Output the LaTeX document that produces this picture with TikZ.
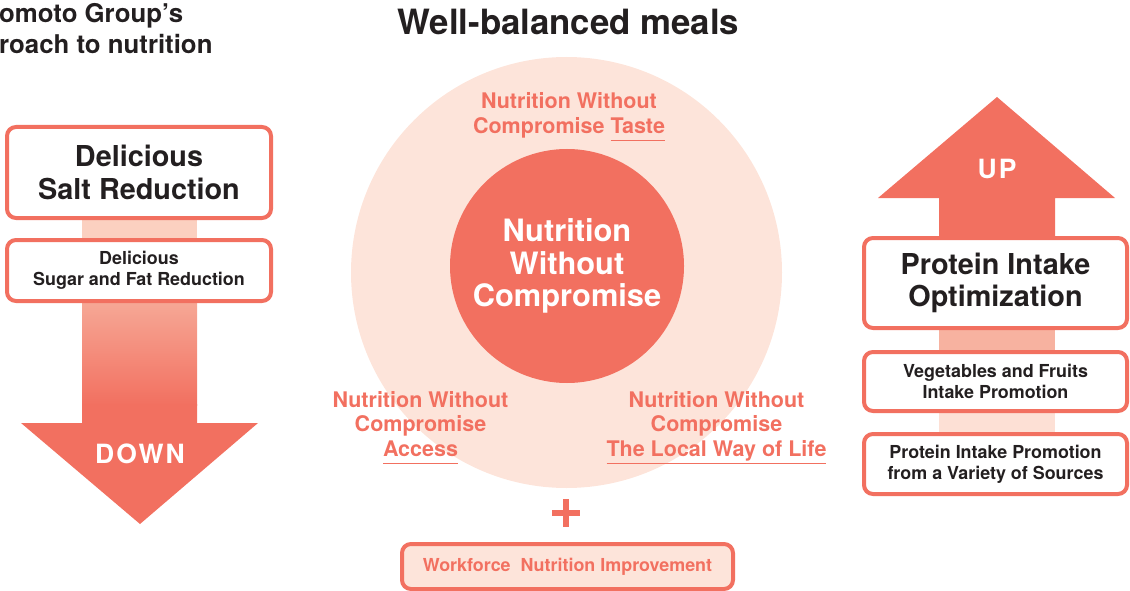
\documentclass[tikz,border=0pt]{standalone}
\usepackage{fontspec}
\setmainfont{TeX Gyre Heros}
\usetikzlibrary{positioning}
\definecolor{coral}{RGB}{242,112,96}
\definecolor{pale}{RGB}{253,228,218}
\definecolor{ink}{RGB}{35,31,32}
\definecolor{bandA}{RGB}{251,208,192}
\definecolor{bandB}{RGB}{247,178,160}
\definecolor{bandC}{RGB}{253,224,213}
\definecolor{gradtop}{RGB}{246,168,150}
\newcommand{\ulined}[1]{\setbox0\hbox{#1}\rlap{\raisebox{0pt}[0pt][0pt]{\rule[-8pt]{\wd0}{1.6pt}}}\box0}

\begin{document}
\begin{tikzpicture}[x=1pt,y=-1pt,
  box/.style={draw=coral,line width=4pt,rounded corners=9pt,fill=white,
    align=center,text=ink,inner sep=0pt},
  bigtxt/.style={font=\bfseries\fontsize{28.8}{32.5}\selectfont},
  smalltxt/.style={font=\bfseries\fontsize{17.9}{21}\selectfont},
  lbl/.style={text=coral,align=center,inner sep=0pt,
    font=\bfseries\fontsize{21.5}{24.5}\selectfont},
  arrowtxt/.style={text=white,inner sep=0pt,
    font=\bfseries\fontsize{26.5}{30}\selectfont\addfontfeature{LetterSpace=8}}]
  \useasboundingbox (0,0) rectangle (1130,591);

  % headings
  \node[anchor=north west,align=left,inner sep=0pt,text=ink,
    font=\bfseries\fontsize{25.8}{31}\selectfont] (approach) at (-1,3)
    {omoto Group’s\\roach to nutrition};
  \node[text=ink,inner sep=0pt,font=\bfseries\fontsize{34.8}{40}\selectfont]
    (title) at (568.5,21.6) {Well-balanced meals};

  % left column: down arrow
  \fill[bandA] (82,218) rectangle (197,242);
  \shade[top color=gradtop,bottom color=coral] (82,301) rectangle (197,405);
  \fill[coral] (82,404) -- (197,404) -- (197,423) -- (258,423) -- (140,524)
    -- (21,423) -- (82,423) -- cycle;
  \node[arrowtxt] (down) at (140,454) {DOWN};

  \node[box,bigtxt,minimum width=264pt,minimum height=91pt] (salt)
    at (139,172.5) {Delicious\\Salt Reduction};
  \node[box,smalltxt,minimum width=264pt,minimum height=61pt,
    below=18pt of salt] (sugar) {Delicious\\Sugar and Fat Reduction};

  % well-balanced meals
  \node[circle,fill=pale,minimum size=431pt,inner sep=0pt] (meals)
    at (566.5,272.5) {};
  \node[circle,fill=coral,minimum size=234pt,inner sep=0pt,text=white,
    align=center,font=\bfseries\fontsize{30.8}{32.5}\selectfont] (core)
    at (567,266) {Nutrition\\Without\\Compromise};

  \node[lbl] (taste) at (569,115.5) {Nutrition Without\\Compromise \ulined{Taste}};
  \node[lbl] (access) at (420.5,424) {Nutrition Without\\Compromise\\\ulined{Access}};
  \node[lbl] (local) at (716.5,426)
    {Nutrition Without\\Compromise\\\ulined{The Local Way of Life}};

  \draw[coral,line width=6.5pt] (552,513) -- (580,513) (566,499) -- (566,527);

  \node[box,fill=pale,text=coral,smalltxt,minimum width=331pt,
    minimum height=45pt] (work) at (567.5,566.5)
    {Workforce\ \ Nutrition Improvement};

  % right column: up arrow
  \fill[coral] (939,240) -- (939,198) -- (878,198) -- (997,97) -- (1115,198)
    -- (1055,198) -- (1055,240) -- cycle;
  \fill[bandB] (939,326) rectangle (1055,354);
  \fill[bandC] (939,409) rectangle (1055,436);
  \node[arrowtxt] (up) at (997,168.5) {UP};

  \node[box,bigtxt,minimum width=263pt,minimum height=90pt] (protein)
    at (995.5,283) {Protein Intake\\Optimization};
  \node[box,smalltxt,minimum width=263pt,minimum height=59pt,
    below=20pt of protein] (veg) {Vegetables and Fruits\\Intake Promotion};
  \node[box,smalltxt,minimum width=263pt,minimum height=60pt,
    below=19pt of veg] (sources)
    {Protein Intake Promotion\\from a Variety of Sources};
\end{tikzpicture}
\end{document}
